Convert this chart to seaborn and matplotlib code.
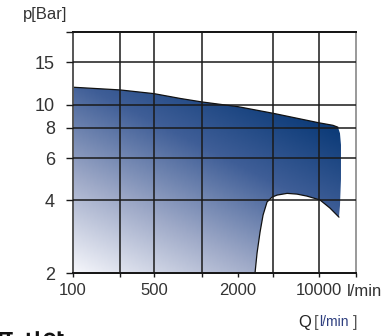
import numpy as np
import seaborn as sns
import matplotlib
matplotlib.use('Agg')
import matplotlib.pyplot as plt
from matplotlib.colors import LinearSegmentedColormap
from matplotlib.ticker import FixedLocator, FixedFormatter, NullLocator

# operating envelope, Q in l/min, p in bar
top_q = [100, 200, 500, 730, 1000, 2000, 5000, 10000, 13000, 14280]
top_p = [11.8, 11.5, 11.1, 10.6, 10.25, 9.8, 9.2, 8.4, 8.2, 8.05]
edge_q = [14820, 15100, 15100, 14820]
edge_p = [7.6, 6.8, 4.9, 3.8]
low_q = [14550, 12290, 10190, 8340, 7180, 6180, 5310, 4870, 4270, 3850, 3560, 3290, 3120]
low_p = [3.41, 3.72, 4.02, 4.17, 4.25, 4.28, 4.21, 4.13, 3.94, 3.48, 2.96, 2.42, 2.0]

x_ticks = [100, 200, 500, 1000, 2000, 5000, 10000, 20000]
x_labels = ['100', '', '500', '', '2000', '', '10000', '']
x_grid = [200, 500, 1000, 5000, 10000]
y_ticks = [2, 4, 6, 8, 10, 15, 20]
y_labels = ['2', '4', '6', '8', '10', '15', '']

# the original x axis is a hand-drawn (uneven) log axis: where each tick sits
tick_frac = [0, 0.166, 0.286, 0.456, 0.583, 0.707, 0.869, 1.0]
la = np.log10(x_ticks)
s0 = (tick_frac[1] - tick_frac[0]) / (la[1] - la[0])
s1 = (tick_frac[-1] - tick_frac[-2]) / (la[-1] - la[-2])
la_ext = np.r_[-6, la, 12]
fr_ext = np.r_[tick_frac[0] - s0 * (la[0] + 6), tick_frac, tick_frac[-1] + s1 * (12 - la[-1])]


def fwd(q):
    return np.interp(np.log10(np.clip(q, 1e-6, None)), la_ext, fr_ext)


def inv(f):
    return 10 ** np.interp(f, fr_ext, la_ext)


sns.set_theme(style="ticks")
plt.rcParams['font.family'] = ['Liberation Sans', 'DejaVu Sans']
txt = '#333333'

fig = plt.figure(figsize=(3.85, 3.36), dpi=100)
ax = fig.add_axes([73 / 385, 63 / 336, 283 / 385, 241 / 336])
ax.set_xscale('function', functions=(fwd, inv))
ax.set_yscale('log')
ax.set_xlim(100, 20000)
ax.set_ylim(2, 20)
ax.set_autoscale_on(False)

# envelope polygon
poly_q = top_q + edge_q + low_q + [100]
poly_p = top_p + edge_p + low_p + [2]
poly = ax.fill(poly_q, poly_p, facecolor='none', edgecolor='none', zorder=1)[0]

# diagonal gradient, white bottom-left to navy top-right
cmap = LinearSegmentedColormap.from_list('env', [(0, '#f5f6fb'), (0.3, '#9faac8'), (0.6, '#3f5e97'),
                                                 (0.85, '#0f3d7a'), (1, '#003468')])
u, v = np.meshgrid(np.linspace(0, 1, 200), np.linspace(0, 1, 200))
grad = np.clip(0.45 * u + 0.75 * v, 0, 1)
im = ax.imshow(grad, extent=[0, 1, 0, 1], transform=ax.transAxes, origin='lower', cmap=cmap,
               vmin=0, vmax=1, aspect='auto', interpolation='bilinear', zorder=1)
im.set_clip_path(poly)

sns.lineplot(x=top_q, y=top_p, sort=False, estimator=None, color='#111111', lw=0.9, ax=ax, zorder=1.5)
sns.lineplot(x=low_q, y=low_p, sort=False, estimator=None, color='#111111', lw=0.9, ax=ax, zorder=1.5)

# ticks and grid
ax.xaxis.remove_overlapping_locs = False
ax.xaxis.set_major_locator(FixedLocator(x_ticks))
ax.xaxis.set_major_formatter(FixedFormatter(x_labels))
ax.xaxis.set_minor_locator(FixedLocator(x_grid))
ax.yaxis.set_major_locator(FixedLocator(y_ticks))
ax.yaxis.set_major_formatter(FixedFormatter(y_labels))
ax.yaxis.set_minor_locator(NullLocator())
ax.set_axisbelow(False)
ax.grid(which='minor', axis='x', color='#1a1a1a', lw=1.1)
ax.grid(which='major', axis='y', color='#1a1a1a', lw=1.1)
ax.tick_params(axis='x', which='major', direction='out', length=3, width=1, pad=4,
               labelsize=12, labelcolor=txt, color='#1a1a1a')
ax.tick_params(axis='x', which='minor', length=0)
ax.tick_params(axis='y', which='major', direction='out', length=5, width=1, pad=8,
               labelsize=13, labelcolor=txt, color='#1a1a1a')
ax.set_xlabel('')
ax.set_ylabel('')

for side, col in [('left', '#555555'), ('bottom', '#111111'), ('top', '#111111'), ('right', '#999999')]:
    ax.spines[side].set_visible(True)
    ax.spines[side].set_color(col)
    ax.spines[side].set_linewidth(1.4)

# axis titles
fig.text(23 / 385, 1 - 15 / 336, 'p[Bar]', ha='left', va='center', fontsize=12, color=txt)
fig.text(347 / 385, 1 - 296 / 336, 'l/min', ha='left', va='baseline', fontsize=12, color=txt)
fig.text(298 / 385, 1 - 327 / 336, 'Q', ha='left', va='baseline', fontsize=12, color='#222222')
fig.text(314 / 385, 1 - 327 / 336, '[', ha='left', va='baseline', fontsize=12, color='#555555')
fig.text(319 / 385, 1 - 326 / 336, 'l/min', ha='left', va='baseline', fontsize=10, color='#2e3f7f')
fig.text(353 / 385, 1 - 327 / 336, ']', ha='left', va='baseline', fontsize=12, color='#555555')

# cut-off heading at the page bottom
fig.text(64 / 385, -15 / 336, '제품 사양', ha='right', va='baseline', fontsize=17,
         fontweight='bold', color='#111111', family=['Noto Sans CJK KR', 'DejaVu Sans'])

fig.savefig('out.png', dpi=100)
